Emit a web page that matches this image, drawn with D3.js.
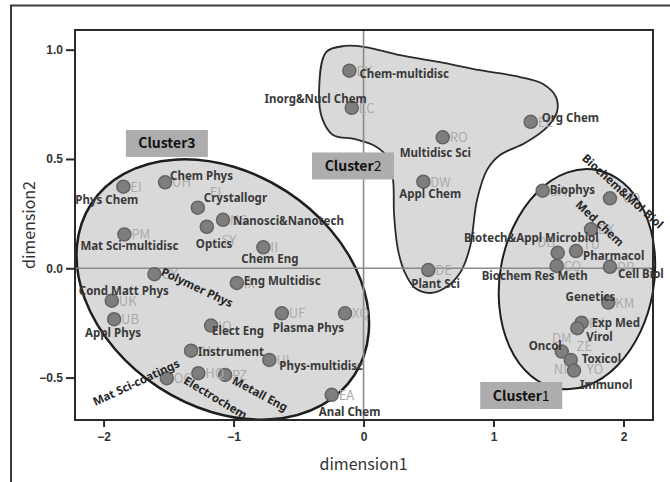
<!DOCTYPE html>
<html><head><meta charset="utf-8">
<script src="https://cdn.jsdelivr.net/npm/d3@7"></script>
<style>
html,body{margin:0;padding:0;background:#fff;}
svg{display:block;}
</style></head>
<body>
<svg id="chart" width="670" height="482"></svg>
<script>
// ---------------- DATA ----------------
const names = ["Phys Chem","Chem Phys","Crystallogr","Nanosci&Nanotech","Optics","Mat Sci-multidisc","Chem Eng","Polymer Phys","Eng Multidisc","Cond Matt Phys","Appl Phys","Elect Eng","Plasma Phys","","Instrument","Phys-multidisc","Metall Eng","Electrochem","Mat Sci-coatings","Anal Chem",
 "Chem-multidisc","Inorg&Nucl Chem","Multidisc Sci","Org Chem","Appl Chem","Plant Sci",
 "Biophys","Biochem&Mol Biol","Med Chem","Biotech&Appl Microbiol","Pharmacol","Biochem Res Meth","Cell Biol","Genetics","Exp Med","Virol","Oncol","Toxicol","Immunol"];
const codes = ["EI","UH","EI","NS","SY","PM","II","UY","IX","UK","UB","IQ","UF","XQ","IU","UI","PZ","HQ","OG","EA",
 "DY","EC","RO","EE","DW","DE",
 "DA","CQ","DX","DB","TU","CO","DR","KM","PY","ZE","DM","YO","NI"];
const dim1 = [-1.848,-1.527,-1.275,-1.081,-1.206,-1.840,-0.771,-1.609,-0.975,-1.937,-1.919,-1.173,-0.629,-0.142,-1.327,-0.725,-1.065,-1.271,-1.514,-0.245,
 -0.109,-0.091,0.609,1.286,0.460,0.498,
 1.378,1.896,1.750,1.494,1.635,1.486,1.896,1.883,1.678,1.645,1.525,1.594,1.619];
const dim2 = [0.373,0.393,0.277,0.222,0.190,0.155,0.096,-0.027,-0.067,-0.148,-0.233,-0.262,-0.206,-0.206,-0.377,-0.419,-0.488,-0.480,-0.503,-0.579,
 0.904,0.734,0.599,0.670,0.396,-0.008,
 0.355,0.320,0.178,0.071,0.079,0.011,0.007,-0.157,-0.249,-0.274,-0.381,-0.419,-0.468];
const clusterOf = [3,3,3,3,3,3,3,3,3,3,3,3,3,3,3,3,3,3,3,3, 2,2,2,2,2,2, 1,1,1,1,1,1,1,1,1,1,1,1,1];

const xTicks = [-2,-1,0,1,2];
const yTicks = [-0.5,0,0.5,1.0];
const xTitle = "dimension1", yTitle = "dimension2";

// Cluster 2 outline (data space)
const blobX = [-0.288,-0.142,0.012,0.281,0.588,0.896,1.204,1.381,1.481,1.488,1.412,1.242,1.050,0.950,0.873,0.819,0.742,0.612,0.512,0.396,0.319,0.265,0.235,0.227,0.188,0.088,-0.065,-0.235,-0.319,-0.342];
const blobY = [0.989,1.017,1.012,0.975,0.943,0.906,0.875,0.843,0.783,0.715,0.646,0.573,0.518,0.450,0.312,0.097,-0.021,-0.095,-0.113,-0.090,-0.021,0.084,0.244,0.404,0.504,0.559,0.591,0.610,0.687,0.815];

// cluster labels
const clusterNames = ["Cluster","Cluster","Cluster"];
const clusterNums = ["3","2","1"];
const clusterLX = [-1.513,-0.081,1.213];
const clusterLY = [0.571,0.468,-0.582];

// ---------------- LAYOUT (not data) ----------------
// label placement: [dx, dy, anchor, rotation]
const labelPos = [
 [-48,17,"start",0],[5,-2,"start",0],[6,-6,"start",0],[10,5,"start",0],[-11,21,"start",0],[-44,16,"start",0],[-22,16,"start",0],[41,17,"middle",25],[7,2,"start",0],[-33,-6,"start",0],
 [-29,18,"start",0],[1,9.5,"start",0],[-9,19,"start",0],[0,0,"start",0],[7,5,"start",0],[10,10,"start",0],[33,22.5,"middle",28],[15,28,"middle",31],[-29,8,"middle",-25],[-13,21,"start",0],
 [10,7,"start",0],[15,-5,"end",0],[-43,20,"start",0],[11,0,"start",0],[-24,16,"start",0],[-17,18,"start",0],
 [7,3,"start",0],[10,-4,"middle",42],[6,-3,"middle",43],[41,-11,"end",0],[7,8.5,"start",0],[-75,14,"start",0],[8,11,"start",0],[7,-2,"end",0],[10,4,"start",0],[9,13,"start",0],[0,-2,"end",0],[11,3.5,"start",0],[6,18,"start",0]
];
const codePos = {2:[12,-11,"start"],4:[15,18,"start"],35:[7,23,"middle"],36:[0,-9,"middle"],27:[13,5,"start"],37:[16,14,"start"],30:[7,-2,"start"],29:[-3,-6,"end"],38:[-7,3,"end"]};

const W=670,H=482, L=75,R=653,T=30,B=420;
const svg = d3.select("#chart");
const x = d3.scaleLinear().domain([-2.22,2.227]).range([L,R]);
const y = d3.scaleLinear().domain([-0.694,1.09]).range([B,T]);

// outer frame
svg.append("rect").attr("x",11).attr("y",5.5).attr("width",700).attr("height",520)
  .attr("fill","none").attr("stroke","#3a3a3a").attr("stroke-width",2);

const FILL="#d9d9d9";
const g = svg.append("g");
// Cluster 3 ellipse
const c3x=x(-1.083), c3y=y(-0.097);
g.append("ellipse").attr("cx",c3x).attr("cy",c3y).attr("rx",157).attr("ry",117)
 .attr("transform",`rotate(33,${c3x},${c3y})`)
 .attr("fill",FILL).attr("stroke","#1e1e1e").attr("stroke-width",2.5);
// Cluster 1 ellipse
const c1x=x(1.642), c1y=y(-0.05);
g.append("ellipse").attr("cx",c1x).attr("cy",c1y).attr("rx",77).attr("ry",111)
 .attr("transform",`rotate(10,${c1x},${c1y})`)
 .attr("fill",FILL).attr("stroke","#1e1e1e").attr("stroke-width",2);
// Cluster 2 blob
const blob = blobX.map((d,i)=>[x(d),y(blobY[i])]);
g.append("path").attr("d",d3.line().curve(d3.curveCatmullRomClosed.alpha(0.5))(blob))
 .attr("fill",FILL).attr("stroke","#2a2a2a").attr("stroke-width",1.8);

// zero lines
svg.append("line").attr("x1",x(0)).attr("x2",x(0)).attr("y1",T).attr("y2",B).attr("stroke","#8a8a8a").attr("stroke-width",1.6);
svg.append("line").attr("x1",L).attr("x2",R).attr("y1",y(0)).attr("y2",y(0)).attr("stroke","#8a8a8a").attr("stroke-width",1.6);

// plot frame
svg.append("rect").attr("x",L).attr("y",T).attr("width",R-L).attr("height",B-T)
 .attr("fill","none").attr("stroke","#2a2a2a").attr("stroke-width",2);

// axes
const fmt = d3.format(".1f");
const ya = svg.append("g").attr("transform",`translate(${L},0)`)
 .call(d3.axisLeft(y).tickValues(yTicks).tickFormat(fmt).tickSize(9).tickPadding(3));
const xa = svg.append("g").attr("transform",`translate(0,${B})`)
 .call(d3.axisBottom(x).tickValues(xTicks).tickFormat(d3.format("d")).tickSize(7).tickPadding(5));
[ya,xa].forEach(a=>{
  a.select(".domain").remove();
  a.selectAll(".tick line").attr("stroke","#2a2a2a").attr("stroke-width",2);
  a.selectAll(".tick text").attr("fill","#333").attr("font-family","Liberation Sans, Arial, sans-serif")
   .attr("font-size",12).attr("font-weight","bold");
});

svg.append("text").attr("x",x(0)).attr("y",470).attr("text-anchor","middle")
 .attr("font-family","Noto Sans CJK KR, Noto Sans, sans-serif").attr("font-size",16).attr("fill","#333").text(xTitle);
svg.append("text").attr("transform",`translate(35,${(T+B)/2}) rotate(-90)`).attr("text-anchor","middle")
 .attr("font-family","Noto Sans CJK KR, Noto Sans, sans-serif").attr("font-size",16).attr("fill","#333").text(yTitle);

// points
const pts = names.map((n,i)=>({n, c:codes[i], x:dim1[i], y:dim2[i], k:clusterOf[i], i}));
svg.append("g").selectAll("circle").data(pts).join("circle")
 .attr("cx",d=>x(d.x)).attr("cy",d=>y(d.y)).attr("r",6.5)
 .attr("fill","#7e7e7e").attr("stroke","#646464").attr("stroke-width",1.5);

// codes (faint)
svg.append("g").selectAll("text").data(pts).join("text")
 .attr("x",d=>x(d.x)+(codePos[d.i]?codePos[d.i][0]:7))
 .attr("y",d=>y(d.y)+(codePos[d.i]?codePos[d.i][1]:5))
 .attr("text-anchor",d=>codePos[d.i]?codePos[d.i][2]:"start")
 .attr("font-family","Noto Sans CJK KR, Noto Sans, sans-serif").attr("font-size",13)
 .attr("fill","#ababab").text(d=>d.c);

// names
svg.append("g").selectAll("text").data(pts.filter(d=>d.n)).join("text")
 .attr("transform",d=>{const p=labelPos[d.i];const px=x(d.x)+p[0], py=y(d.y)+p[1];return `translate(${px},${py}) rotate(${p[3]})`;})
 .attr("text-anchor",d=>labelPos[d.i][2])
 .attr("font-family","Noto Sans, sans-serif").attr("font-size",11.5).attr("font-weight","bold")
 .attr("fill",d=>labelPos[d.i][3]?"#262626":"#3a3a3a").text(d=>d.n);

// cluster boxes
clusterNames.forEach((nm,i)=>{
  const cx=x(clusterLX[i]), cy=y(clusterLY[i]);
  svg.append("rect").attr("x",cx-41).attr("y",cy-13.5).attr("width",82).attr("height",27).attr("fill","#adadad");
  const t=svg.append("text").attr("x",cx).attr("y",cy+5).attr("text-anchor","middle")
   .attr("font-family","Noto Sans CJK KR, Noto Sans, sans-serif").attr("font-size",14).attr("fill","#111");
  t.append("tspan").attr("font-weight","bold").text(nm);
  t.append("tspan").attr("font-weight",clusterNums[i]==="3"?"bold":"normal").text(clusterNums[i]);
});
</script>
</body></html>
